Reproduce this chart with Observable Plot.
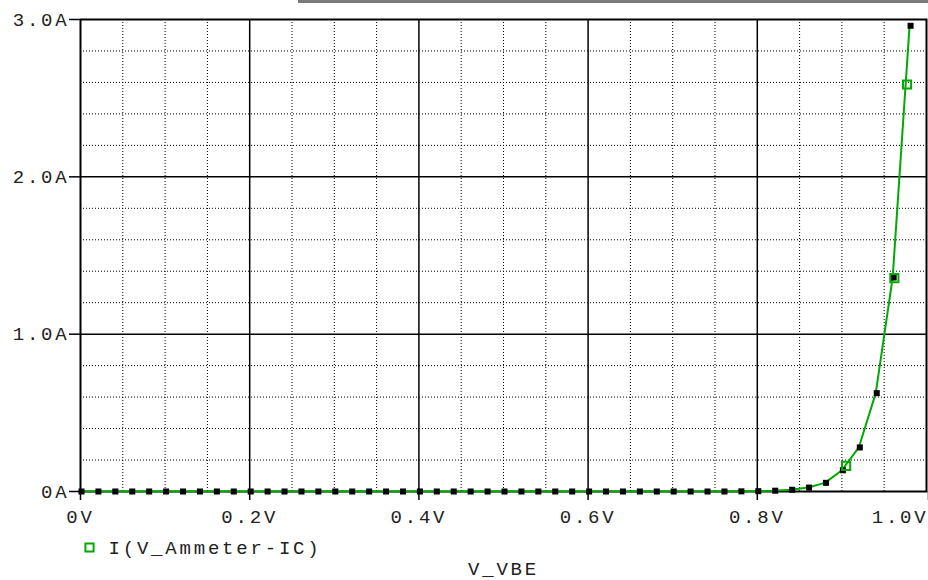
<!DOCTYPE html>
<html>
<head>
<meta charset="utf-8">
<script src="https://cdn.jsdelivr.net/npm/d3@7"></script>
<script src="https://cdn.jsdelivr.net/npm/@observablehq/plot@0.6"></script>
<style>
  html, body { margin: 0; padding: 0; background: white; }
  #wrap { position: relative; width: 928px; height: 580px; }
  #topbar { position: absolute; top: 0; left: 298px; width: 630px; height: 3px; background: #7a7a7a; }
</style>
</head>
<body>
<div id="wrap"><div id="topbar"></div></div>
<script>
// Sweep voltage V_VBE (V)
const vbe = [0.00,0.02,0.04,0.06,0.08,0.10,0.12,0.14,0.16,0.18,
             0.20,0.22,0.24,0.26,0.28,0.30,0.32,0.34,0.36,0.38,
             0.40,0.42,0.44,0.46,0.48,0.50,0.52,0.54,0.56,0.58,
             0.60,0.62,0.64,0.66,0.68,0.70,0.72,0.74,0.76,0.78,
             0.80,0.82,0.84,0.86,0.88,0.90,0.92,0.94,0.96,0.98];
// Collector current I(V_Ammeter-IC) (A)
const ic  = [0,0,0,0,0,0,0,0,0,0,
             0,0,0,0,0,0,0,0,0,0,
             0,0,0,0,0,0,0,0,0,0,
             0,0,0,0,0,0,0,0,0,0.001,
             0.002,0.005,0.011,0.025,0.055,0.135,0.28,0.625,1.36,2.96];
// Trace symbol markers (green hollow squares)
const markV = [0.905, 0.962, 0.977];
const markI = [0.163, 1.356, 2.587];
// Axis ticks
const xTicks = [0, 0.2, 0.4, 0.6, 0.8, 1.0];
const xLabels = ["0V", "0.2V", "0.4V", "0.6V", "0.8V", "1.0V"];
const yTicks = [0, 1, 2, 3];
const yLabels = ["0A", "1.0A", "2.0A", "3.0A"];
const xMinor = [0.05,0.10,0.15,0.25,0.30,0.35,0.45,0.50,0.55,0.65,0.70,0.75,0.85,0.90,0.95];
const yMinor = [0.2,0.4,0.6,0.8,1.2,1.4,1.6,1.8,2.2,2.4,2.6,2.8];
const xMajor = [0.2, 0.4, 0.6, 0.8];
const yMajor = [1, 2];
const legendLabel = "I(V_Ammeter-IC)";
const xTitle = "V_VBE";

const data = vbe.map((v, i) => ({v, i: ic[i]}));
const marks = markV.map((v, k) => ({v, i: markI[k]}));
const green = "#00aa00";
const xFmt = d => xLabels[xTicks.indexOf(d)];
const yFmt = d => yLabels[yTicks.indexOf(d)];

const chart = Plot.plot({
  width: 928,
  height: 580,
  marginTop: 19,
  marginBottom: 89,
  marginLeft: 80,
  marginRight: 2,
  x: {domain: [0, 1], label: null},
  y: {domain: [0, 3], label: null},
  style: {fontFamily: "Liberation Mono, DejaVu Sans Mono, monospace", fontSize: "19px", letterSpacing: "2.8px", color: "black", background: "transparent"},
  marks: [
    Plot.ruleX(xMinor, {stroke: "black", strokeWidth: 1, strokeDasharray: "1,2"}),
    Plot.ruleY(yMinor, {stroke: "black", strokeWidth: 1, strokeDasharray: "1,2"}),
    Plot.ruleX(xMajor, {stroke: "black", strokeWidth: 1.5}),
    Plot.ruleY(yMajor, {stroke: "black", strokeWidth: 1.5}),
    Plot.frame({stroke: "black", strokeWidth: 2}),
    Plot.axisY({ticks: yTicks, tickFormat: yFmt, tickSize: 11, tickPadding: 0, strokeWidth: 1.5, fill: "#222", label: null}),
    Plot.axisX({ticks: xTicks.slice(0, 5), tickFormat: xFmt, tickSize: 9, tickPadding: 9, strokeWidth: 1.5, fill: "#222", label: null}),
    Plot.axisX({ticks: [1.0], tickFormat: xFmt, tickSize: 9, tickPadding: 9, strokeWidth: 1.5, fill: "#222", textAnchor: "end", dx: 2, label: null}),
    Plot.line(data, {x: "v", y: "i", stroke: green, strokeWidth: 2}),
    Plot.dot(data, {x: "v", y: "i", symbol: "square", r: 3.4, fill: "black", stroke: "none", dx: 1}),
    Plot.dot(marks, {x: "v", y: "i", symbol: "square", r: 4.6, fill: "none", stroke: green, strokeWidth: 2}),
    Plot.dot([legendLabel], {frameAnchor: "bottom-left", dx: 9, dy: 56, symbol: "square", r: 4.6, fill: "none", stroke: green, strokeWidth: 2}),
    Plot.text([legendLabel], {text: d => d, frameAnchor: "bottom-left", dx: 28, dy: 56, textAnchor: "start", lineAnchor: "middle", fill: "#222"}),
    Plot.text([xTitle], {text: d => d, frameAnchor: "bottom", dx: 0, dy: 77, textAnchor: "middle", lineAnchor: "middle", fill: "#222"})
  ]
});
document.getElementById("wrap").insertBefore(chart, document.getElementById("topbar"));
</script>
</body>
</html>
